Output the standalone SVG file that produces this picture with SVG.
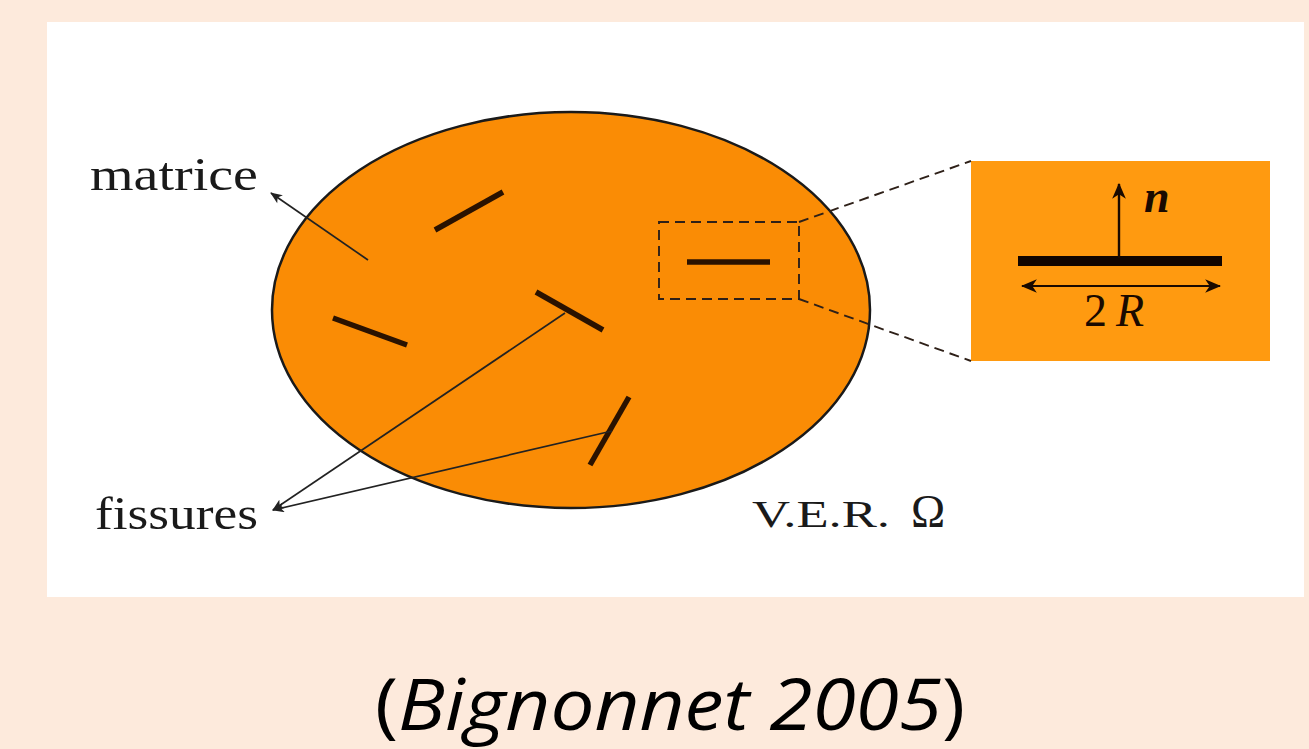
<svg xmlns="http://www.w3.org/2000/svg" width="1309" height="749" viewBox="0 0 1309 749">
<defs>
<style>
.serif{font-family:"Liberation Serif","DejaVu Serif",serif;fill:#1a1a1a}
.crack{stroke:#2a1200;stroke-width:5.5;stroke-linecap:butt}
.thin{stroke:#222;stroke-width:1.7;fill:none}
.dash{stroke:#2e2018;stroke-width:1.9;fill:none;stroke-dasharray:10 6}
</style>
<marker id="ah" viewBox="0 0 12 10" refX="11" refY="5" markerWidth="13" markerHeight="10" markerUnits="userSpaceOnUse" orient="auto">
<path d="M0,0 L12,5 L0,10 L3,5 Z" fill="#222"/>
</marker>
<marker id="ahb" viewBox="0 0 14 12" refX="13" refY="6" markerWidth="16" markerHeight="14" markerUnits="userSpaceOnUse" orient="auto-start-reverse">
<path d="M0,0 L14,6 L0,12 L4,6 Z" fill="#1a0a00"/>
</marker>
</defs>
<rect x="0" y="0" width="1309" height="749" fill="#FDEADC"/>
<rect x="47" y="22" width="1257" height="575" fill="#FFFFFF"/>

<g id="domain">
<ellipse cx="571" cy="310" rx="299" ry="198" fill="#FA8C05" stroke="#1a1a1a" stroke-width="2.5"/>
<line class="crack" x1="435" y1="230" x2="503" y2="192"/>
<line class="crack" x1="333" y1="318" x2="407" y2="345"/>
<line class="crack" x1="536" y1="292" x2="603" y2="330"/>
<line class="crack" x1="590" y1="465" x2="629" y2="397"/>
<line class="crack" x1="687" y1="262" x2="770" y2="262"/>
<rect class="dash" x="659" y="222" width="140" height="77"/>
</g>

<g id="inset">
<rect x="971" y="161" width="299" height="200" fill="#FF9A10"/>
<line x1="1018" y1="261" x2="1222" y2="261" stroke="#110500" stroke-width="10"/>
<line x1="1119" y1="258" x2="1119" y2="184" stroke="#1a0a00" stroke-width="2.4" marker-end="url(#ahb)"/>
<line x1="1022" y1="286" x2="1220" y2="286" stroke="#1a0a00" stroke-width="2.2" marker-start="url(#ahb)" marker-end="url(#ahb)"/>
<text x="1144" y="212" font-family="Liberation Serif, serif" font-style="italic" font-weight="bold" font-size="46" fill="#1a0a00">n</text>
<text x="1084" y="326" font-family="Liberation Serif, serif" font-size="46" fill="#1a0a00">2<tspan font-style="italic" dx="9">R</tspan></text>
</g>

<g id="connectors">
<line class="dash" x1="799" y1="222" x2="971" y2="161"/>
<line class="dash" x1="799" y1="299" x2="971" y2="361"/>
<line class="thin" x1="368" y1="260" x2="271" y2="193" marker-end="url(#ah)"/>
<line class="thin" x1="565" y1="313" x2="273" y2="510" marker-end="url(#ah)"/>
<line class="thin" x1="612" y1="431" x2="273" y2="510" marker-end="url(#ah)"/>
</g>

<g id="labels">
<text class="serif" x="90" y="190" font-size="46" textLength="168" lengthAdjust="spacingAndGlyphs">matrice</text>
<text class="serif" x="95" y="529" font-size="46" textLength="163" lengthAdjust="spacingAndGlyphs">fissures</text>
<text class="serif" x="752" y="527" font-size="38" textLength="138" lengthAdjust="spacingAndGlyphs">V.E.R.</text>
<text class="serif" x="911" y="527" font-size="46">Ω</text>
</g>

<g id="caption">
<text x="375" y="730" font-family="Open Sans, Lato, sans-serif" font-size="72" fill="#000" textLength="590" lengthAdjust="spacingAndGlyphs">(<tspan font-style="italic">Bignonnet 2005</tspan>)</text>
</g>
</svg>
